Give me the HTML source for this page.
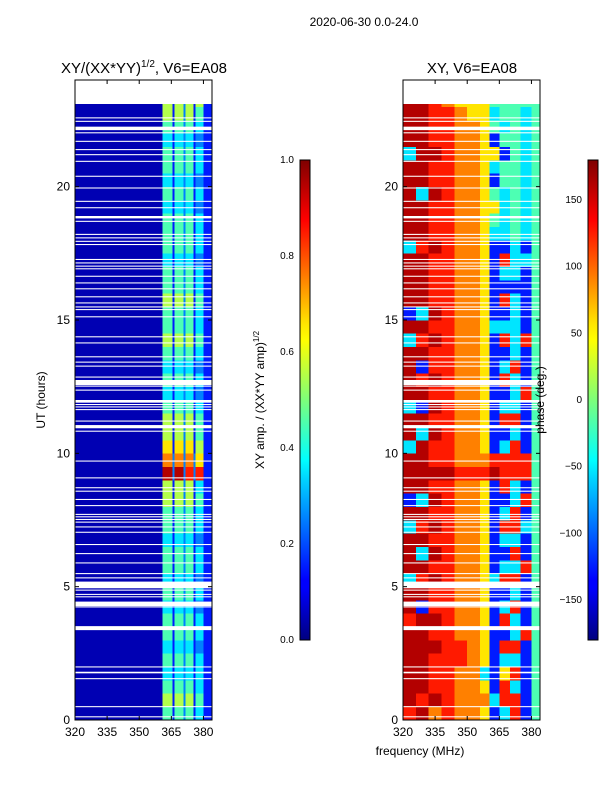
<!DOCTYPE html>
<html><head><meta charset="utf-8"><style>
body{margin:0;background:#fff;}
svg{display:block;font-family:"Liberation Sans",sans-serif;}
</style></head><body>
<svg id="fig" width="600" height="800" viewBox="0 0 600 800">
<defs>
<linearGradient id="jet" x1="0" y1="1" x2="0" y2="0">
<stop offset="0" stop-color="#00007f"/><stop offset="0.11" stop-color="#0000ff"/>
<stop offset="0.125" stop-color="#0000ff"/><stop offset="0.34" stop-color="#00d8ff"/>
<stop offset="0.375" stop-color="#00ffff"/><stop offset="0.5" stop-color="#7dff7a"/>
<stop offset="0.625" stop-color="#ffff00"/><stop offset="0.66" stop-color="#ffe400"/>
<stop offset="0.875" stop-color="#ff0000"/><stop offset="0.89" stop-color="#f10000"/>
<stop offset="1" stop-color="#7f0000"/>
</linearGradient>
</defs>
<text x="364" y="26" font-size="12" text-anchor="middle">2020-06-30 0.0-24.0</text>
<text x="144" y="73" font-size="15" text-anchor="middle">XY/(XX*YY)<tspan font-size="10" dy="-6">1/2</tspan><tspan dy="6">, V6=EA08</tspan></text>
<text x="472" y="73" font-size="15" text-anchor="middle">XY, V6=EA08</text>
<g id="ampPanel"></g>
<g id="phPanel"></g>
<g id="axes"></g>
<text transform="translate(45,400) rotate(-90)" font-size="12" text-anchor="middle">UT (hours)</text>
<text x="420" y="755" font-size="12" text-anchor="middle">frequency (MHz)</text>
<rect x="300" y="160" width="10" height="480" fill="url(#jet)" stroke="#000" stroke-width="1"/>
<rect x="588" y="160" width="10" height="480" fill="url(#jet)" stroke="#000" stroke-width="1"/>
<text transform="translate(264,400) rotate(-90)" font-size="12" text-anchor="middle">XY amp. / (XX*YY amp)<tspan font-size="8" dy="-5">1/2</tspan></text>
<text transform="translate(544,400) rotate(-90)" font-size="12" text-anchor="middle">phase (deg.)</text>
</svg>
<script>
const tStep = 0.5, tEnd = 23.1;
const ampFreqEdges = [320,360.8,365.5,366.4,370.6,371.6,375.3,376.3,380,384];
const phFreqEdges = [320,326,332,338,344,350,356,360.5,365,370,375,380,384];
const ampRows = ["041424131","051525141","041424131","031323131","041424131","031323121","041424131","041424131","031323121","041424131","031323121","041424131","041424131","031323121","041424131","041424131","051525141","051525131","092928281","072727261","061626151","051525141","051525141","041424131","031323121","041424131","031323121","041424131","051525141","041424131","041424131","051525141","041424131","041424131","031323121","041424131","041424131","041424131","031323121","041424131","031323121","041424131","041424131","031323121","041424131","051525141","051525151"];
const phRows = ["897877613814","989877738814","998877618314","998877316814","998887613314","999887618814","998877611384","899877618314","918877613814","998877611314","389877638814","998877613384","939877611814","998877613314","389877618834","998877613814","139877611384","998877618314","999988898884","998877788884","398877613814","939877611314","998877618814","319877613314","998877611384","989877618314","918877613814","998877611314","389877618384","998877633314","139877611314","998877618314","998877611114","998877613314","998877618334","389877611314","998877633434","998877643434","998877663434","939877643434","998877614434","998877634434","399877661434","998877614434","998877643434","998876634434","998766644444"];
const flagStart = [22.56,22.43,22.12,22.0,21.68,21.37,21.18,20.93,20.37,19.93,19.43,19.19,18.81,18.68,18.19,18.06,17.93,17.81,17.25,17.12,17.0,16.9,16.62,16.37,16.15,15.85,15.62,15.47,15.37,15.1,14.35,14.12,13.6,13.4,13.25,12.84,12.56,12.5,12.35,11.9,11.81,11.72,11.62,11.19,10.94,10.81,9.69,9.06,8.69,8.56,8.25,8.02,7.69,7.6,7.5,7.4,7.22,7.02,6.56,6.22,5.87,5.47,5.31,4.94,4.85,4.69,4.6,4.27,4.22,3.37,1.97,1.75,1.53,0.48,0.1];
const flagEnd = [22.6,22.47,22.25,22.04,21.72,21.41,21.22,20.97,20.41,19.97,19.47,19.23,18.9,18.72,18.23,18.1,17.97,17.85,17.29,17.16,17.04,16.94,16.66,16.41,16.19,15.89,15.66,15.51,15.41,15.14,14.39,14.16,13.64,13.44,13.29,12.88,12.75,12.54,12.39,12.0,11.85,11.76,11.66,11.23,11.06,10.85,9.73,9.1,8.73,8.6,8.29,8.06,7.73,7.64,7.54,7.44,7.26,7.06,6.6,6.26,5.91,5.51,5.35,5.19,4.89,4.73,4.64,4.44,4.26,3.52,2.01,1.81,1.57,0.52,0.14];
const yTicks = [0,5,10,15,20];
const xTicks = [320,335,350,365,380];
const ampCbTicks = [0.0,0.2,0.4,0.6,0.8,1.0];
const phCbTicks = [-150,-100,-50,0,50,100,150];

const NS="http://www.w3.org/2000/svg";
const yMin=0,yMax=24,pTop=80,pBot=720,xMin=320,xMax=384;
const yS=t=>pBot-(t-yMin)/(yMax-yMin)*(pBot-pTop);
function xS(x0){return f=>x0+(f-xMin)/(xMax-xMin)*137;}
const xA=xS(75), xP=xS(403);
function jet(v){
  v=Math.max(0,Math.min(1,v));
  const c=x=>Math.round(255*Math.max(0,Math.min(1,x)));
  const r=c(1.5-Math.abs(4*v-3)), g=c(1.5-Math.abs(4*v-2)), b=c(1.5-Math.abs(4*v-1));
  return `rgb(${r},${g},${b})`;
}
function mk(tag,attrs,parent){const e=document.createElementNS(NS,tag);for(const k in attrs)e.setAttribute(k,attrs[k]);parent.appendChild(e);return e;}
function drawHeat(g,rows,edges,xs){
  rows.forEach((row,i)=>{
    const t0=i*tStep,t1=Math.min((i+1)*tStep,tEnd);
    for(let j=0;j<row.length;j++){
      const v=(parseInt(row[j])+0.5)/10;
      const r=mk('rect',{x:xs(edges[j]),y:yS(t1),width:xs(edges[j+1])-xs(edges[j])+0.4,height:yS(t0)-yS(t1)+0.4,fill:jet(v),'shape-rendering':'crispEdges'},g);
      
      
    }
  });
  flagStart.forEach((s,k)=>{
    const r=mk('rect',{x:xs(xMin),y:yS(flagEnd[k]),width:137,height:Math.max(1,yS(s)-yS(flagEnd[k])),fill:'#fff'},g);
    
    
  });
}
drawHeat(document.getElementById('ampPanel'),ampRows,ampFreqEdges,xA);
drawHeat(document.getElementById('phPanel'),phRows,phFreqEdges,xP);
const ax=document.getElementById('axes');
[[75,xA,'amp'],[403,xP,'phase']].forEach(([x0,xs,nm])=>{
  const f=mk('rect',{x:x0,y:pTop,width:137,height:pBot-pTop,fill:'none',stroke:'#000','stroke-width':1},ax);
  
  
  yTicks.forEach(t=>{
    const y=yS(t);
    mk('line',{x1:x0,x2:x0+4,y1:y,y2:y,stroke:'#000'},ax);
    mk('line',{x1:x0+137,x2:x0+133,y1:y,y2:y,stroke:'#000'},ax);
    const l=mk('text',{x:x0-5,y:y+4,'font-size':12,'text-anchor':'end'},ax);
    l.textContent=t;
    
    
  });
  xTicks.forEach(v=>{
    const x=xs(v);
    mk('line',{x1:x,x2:x,y1:pBot,y2:pBot-4,stroke:'#000'},ax);
    mk('line',{x1:x,x2:x,y1:pTop,y2:pTop+4,stroke:'#000'},ax);
    const l=mk('text',{x:x,y:pBot+16,'font-size':12,'text-anchor':'middle'},ax);
    l.textContent=v;
    
    
  });
});
function cb(x0,ticks,lo,hi,fmt){
  ticks.forEach(v=>{
    const y=640-(v-lo)/(hi-lo)*480;
    mk('line',{x1:x0,x2:x0+3,y1:y,y2:y,stroke:'#000'},ax);
    mk('line',{x1:x0+10,x2:x0+7,y1:y,y2:y,stroke:'#000'},ax);
    const l=mk('text',{x:x0-6,y:y+3,'font-size':10,'text-anchor':'end'},ax);
    l.textContent=fmt(v);
    
    
  });
}
cb(300,ampCbTicks,0,1,v=>v.toFixed(1));
cb(588,phCbTicks,-180,180,v=>v<0?'\u2212'+(-v):''+v);
</script>
</body></html>
